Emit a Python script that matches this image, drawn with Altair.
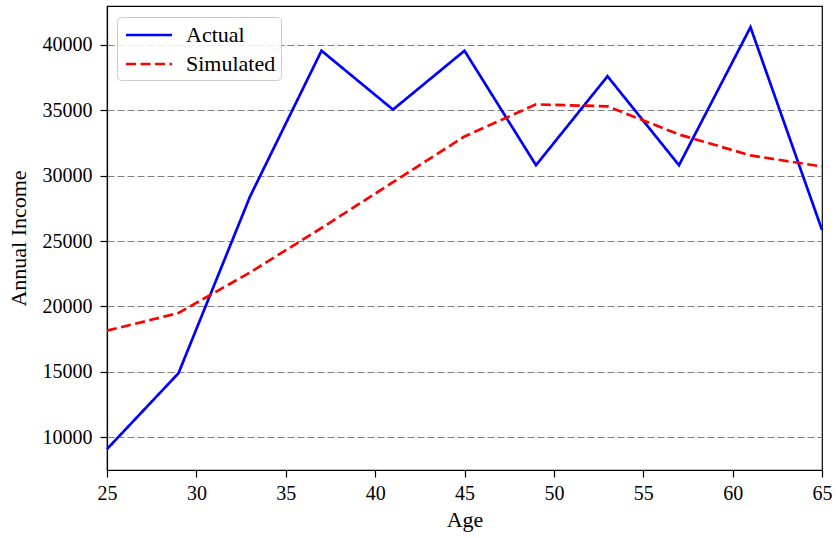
import altair as alt
import pandas as pd

ages = [25, 29, 33, 37, 41, 45, 49, 53, 57, 61, 65]
actual = [9100, 14900, 28400, 39550, 35050, 39550, 30800, 37600, 30800, 41350, 25850]
simulated = [18150, 19500, 22600, 26000, 29500, 33000, 35450, 35300, 33150, 31550, 30700]
series_names = ["Actual", "Simulated"]
x_ticks = [25, 30, 35, 40, 45, 50, 55, 60, 65]
y_ticks = [10000, 15000, 20000, 25000, 30000, 35000, 40000]

rows = []
for a, v in zip(ages, actual):
    rows.append({"Age": a, "Income": v, "Series": "Actual"})
for a, v in zip(ages, simulated):
    rows.append({"Age": a, "Income": v, "Series": "Simulated"})
df = pd.DataFrame(rows)

FONT = "Liberation Serif"


def make_legend():
    return alt.Legend(title=None, orient="none", legendX=10, legendY=11,
                      symbolType="M-2,0H2", symbolSize=529,
                      symbolStrokeWidth=2.7, symbolOffset=14,
                      labelFont=FONT, labelFontSize=22, labelColor="black",
                      fillColor="rgba(255,255,255,0.85)",
                      strokeColor="#cccccc", cornerRadius=4,
                      padding=5, rowPadding=5, labelOffset=24)


chart = alt.Chart(df).mark_line(strokeWidth=2.7).encode(
    x=alt.X("Age:Q", title="Age",
            scale=alt.Scale(domain=[25, 65], nice=False, zero=False),
            axis=alt.Axis(values=x_ticks, grid=False, format="d", labelFlush=False,
                          labelFont=FONT, labelFontSize=20)),
    y=alt.Y("Income:Q", title="Annual Income",
            scale=alt.Scale(domain=[7500, 42970], nice=False, zero=False),
            axis=alt.Axis(values=y_ticks, grid=True, format="d",
                          labelFont=FONT, labelFontSize=20)),
    color=alt.Color("Series:N",
                    scale=alt.Scale(domain=series_names, range=["#0000ff", "#ff0000"]),
                    legend=make_legend()),
    strokeDash=alt.StrokeDash("Series:N",
                              scale=alt.Scale(domain=series_names, range=[[1, 0], [10, 4.5]]),
                              legend=make_legend()),
).properties(
    width=715,
    height=464,
    autosize=alt.AutoSizeParams(type="none"),
    padding={"left": 107, "top": 6, "right": 14, "bottom": 68},
).configure_view(
    stroke="black", strokeWidth=1.2
).configure_axis(
    labelFont=FONT, labelFontSize=20, labelColor="black",
    titleFont=FONT, titleFontSize=22, titleColor="black", titleFontWeight="normal",
    domainColor="black", domainWidth=1.2,
    tickColor="black", tickSize=7, tickWidth=1.2,
    gridColor="#808080", gridDash=[7, 3], gridWidth=1.1,
).configure_axisX(
    labelPadding=6, titlePadding=6
).configure_axisY(
    labelPadding=8, titlePadding=12
)

chart.save("out.html", embed_options={"renderer": "svg", "actions": False})
